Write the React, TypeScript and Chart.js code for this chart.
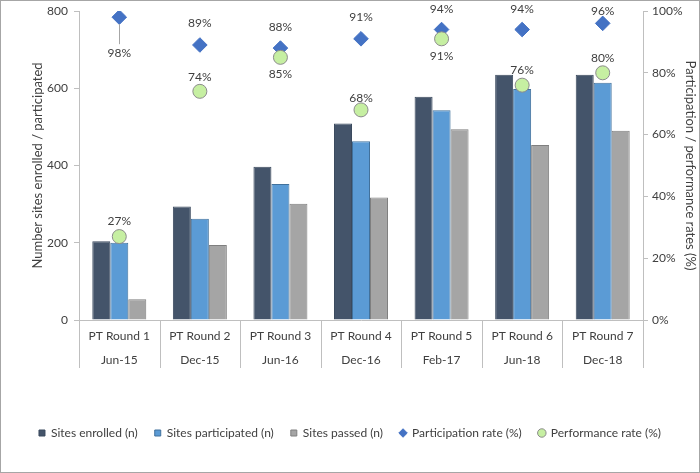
import React, { useEffect, useRef } from 'react';
import { Chart, registerables } from 'chart.js';

Chart.register(...registerables);

const rounds = ['PT Round 1', 'PT Round 2', 'PT Round 3', 'PT Round 4', 'PT Round 5', 'PT Round 6', 'PT Round 7'];
const dates = ['Jun-15', 'Dec-15', 'Jun-16', 'Dec-16', 'Feb-17', 'Jun-18', 'Dec-18'];
const sitesEnrolled = [204, 294, 397, 509, 578, 635, 635];
const sitesParticipated = [200, 262, 352, 463, 543, 598, 614];
const sitesPassed = [54, 194, 301, 317, 494, 453, 490];
const participationRate = [98, 89, 88, 91, 94, 94, 96];
const performanceRate = [27, 74, 85, 68, 91, 76, 80];
const leftTicks = [0, 200, 400, 600, 800];
const rightTicks = [0, 20, 40, 60, 80, 100];

// label placement (style, px offsets from the point)
const participationLabelDy = [36, -22, -21, -22, -20, -20, -12];
const performanceLabelDy = [-15, -14, 17, -12, 17, -15, -15];

const FONT = 'Lato';
const TEXT = '#404040';
const AXIS = '#BFBFBF';

const framePlugin = {
  id: 'frame',
  beforeDraw(chart: any) {
    const { ctx, width, height } = chart;
    ctx.save();
    ctx.fillStyle = '#ffffff';
    ctx.fillRect(0, 0, width, height);
    ctx.strokeStyle = '#A6A6A6';
    ctx.lineWidth = 1;
    ctx.strokeRect(0.5, 0.5, width - 1, height - 1);
    ctx.restore();
  },
  afterDraw(chart: any) {
    const x = chart.scales.x;
    const ctx = chart.ctx;
    const bottom = chart.chartArea.bottom;
    const n = rounds.length;
    const bounds: number[] = [x.left];
    for (let i = 1; i < n; i++) {
      bounds.push((x.getPixelForValue(i - 1) + x.getPixelForValue(i)) / 2);
    }
    bounds.push(x.right);
    ctx.save();
    ctx.strokeStyle = AXIS;
    ctx.lineWidth = 1;
    bounds.forEach((b) => {
      const px = Math.round(b) + 0.5;
      ctx.beginPath();
      ctx.moveTo(px, bottom);
      ctx.lineTo(px, bottom + 48);
      ctx.stroke();
    });
    ctx.restore();
  },
};

const labelPlugin = {
  id: 'pointLabels',
  afterDatasetsDraw(chart: any) {
    const ctx = chart.ctx;
    ctx.save();
    ctx.font = `12px ${FONT}`;
    ctx.fillStyle = TEXT;
    ctx.textAlign = 'center';
    ctx.textBaseline = 'middle';
    const specs = [
      { index: 3, values: participationRate, dys: participationLabelDy },
      { index: 4, values: performanceRate, dys: performanceLabelDy },
    ];
    specs.forEach(({ index, values, dys }) => {
      const meta = chart.getDatasetMeta(index);
      meta.data.forEach((pt: any, i: number) => {
        const dy = dys[i];
        if (Math.abs(dy) > 25) {
          ctx.strokeStyle = '#A6A6A6';
          ctx.lineWidth = 1;
          ctx.beginPath();
          ctx.moveTo(Math.round(pt.x) + 0.5, pt.y + 7);
          ctx.lineTo(Math.round(pt.x) + 0.5, pt.y + dy - 9);
          ctx.stroke();
        }
        ctx.fillText(values[i] + '%', pt.x, pt.y + dy);
      });
    });
    ctx.restore();
  },
};

export default function App() {
  const ref = useRef<HTMLCanvasElement | null>(null);

  useEffect(() => {
    if (!ref.current) return;
    const chart = new Chart(ref.current, {
      type: 'bar',
      data: {
        labels: rounds.map((r, i) => [r, dates[i]]),
        datasets: [
          {
            type: 'bar',
            label: 'Sites enrolled (n)',
            data: sitesEnrolled,
            backgroundColor: '#44546A',
            borderColor: '#3B4A5E',
            borderWidth: 1,
            yAxisID: 'y',
            order: 3,
            pointStyle: 'rect',
          },
          {
            type: 'bar',
            label: 'Sites participated (n)',
            data: sitesParticipated,
            backgroundColor: '#5B9BD5',
            borderColor: '#41719C',
            borderWidth: 1,
            yAxisID: 'y',
            order: 3,
            pointStyle: 'rect',
          },
          {
            type: 'bar',
            label: 'Sites passed (n)',
            data: sitesPassed,
            backgroundColor: '#A5A5A5',
            borderColor: '#7F7F7F',
            borderWidth: 1,
            yAxisID: 'y',
            order: 3,
            pointStyle: 'rect',
          },
          {
            type: 'line',
            label: 'Participation rate (%)',
            data: participationRate,
            showLine: false,
            pointStyle: 'rectRot',
            pointRadius: 7.3,
            backgroundColor: '#4472C4',
            borderColor: '#4472C4',
            borderWidth: 1,
            yAxisID: 'y1',
            order: 2,
          },
          {
            type: 'line',
            label: 'Performance rate (%)',
            data: performanceRate,
            showLine: false,
            pointStyle: 'circle',
            pointRadius: 7,
            backgroundColor: '#C6EFA2',
            borderColor: '#8C8C8C',
            borderWidth: 1,
            yAxisID: 'y1',
            order: 1,
          },
        ],
      },
      options: {
        animation: false,
        responsive: false,
        maintainAspectRatio: false,
        layout: { padding: { top: 11, bottom: 24, left: 0, right: 0 } },
        datasets: {
          bar: { categoryPercentage: 0.67, barPercentage: 1.0 },
        },
        plugins: {
          tooltip: { enabled: false },
          legend: {
            position: 'bottom',
            labels: {
              usePointStyle: true,
              boxWidth: 6,
              boxHeight: 6,
              padding: 17,
              color: TEXT,
              font: { family: FONT, size: 12 },
              sort: (a: any, b: any) => a.datasetIndex - b.datasetIndex,
            },
          },
        },
        scales: {
          x: {
            offset: true,
            grid: { display: false, drawTicks: false, drawOnChartArea: false },
            border: { display: true, color: AXIS },
            ticks: {
              color: TEXT,
              font: { family: FONT, size: 12, lineHeight: 2 },
              padding: 4,
              maxRotation: 0,
              autoSkip: false,
            },
            afterFit: (s: any) => {
              s.height = 90;
            },
          },
          y: {
            position: 'left',
            min: 0,
            max: 800,
            afterBuildTicks: (s: any) => {
              s.ticks = leftTicks.map((v) => ({ value: v }));
            },
            grid: { drawOnChartArea: false, drawTicks: true, tickLength: 5, color: AXIS },
            border: { display: true, color: AXIS },
            ticks: { color: TEXT, font: { family: FONT, size: 12 }, padding: 6 },
            title: {
              display: true,
              text: 'Number sites enrolled / participated',
              color: TEXT,
              font: { family: FONT, size: 13 },
              padding: { top: 30, bottom: 0 },
            },
            afterFit: (s: any) => {
              s.width = 79;
              s.paddingTop = 0;
              s.paddingBottom = 0;
            },
          },
          y1: {
            position: 'right',
            min: 0,
            max: 100,
            afterBuildTicks: (s: any) => {
              s.ticks = rightTicks.map((v) => ({ value: v }));
            },
            grid: { drawOnChartArea: false, drawTicks: true, tickLength: 5, color: AXIS },
            border: { display: true, color: AXIS },
            ticks: {
              color: TEXT,
              font: { family: FONT, size: 12 },
              padding: 4,
              callback: (v: any) => v + '%',
            },
            title: {
              display: true,
              text: 'Participation / performance rates (%)',
              color: TEXT,
              font: { family: FONT, size: 13 },
              padding: { top: 2, bottom: 0 },
            },
            afterFit: (s: any) => {
              s.width = 57;
              s.paddingTop = 0;
              s.paddingBottom = 0;
            },
          },
        },
      },
      plugins: [framePlugin, labelPlugin],
    });
    return () => chart.destroy();
  }, []);

  return (
    <div style={{ position: 'absolute', left: 0, top: 0, width: 700, height: 473 }}>
      <canvas ref={ref} width={700} height={473} style={{ display: 'block', width: 700, height: 473 }} />
    </div>
  );
}
